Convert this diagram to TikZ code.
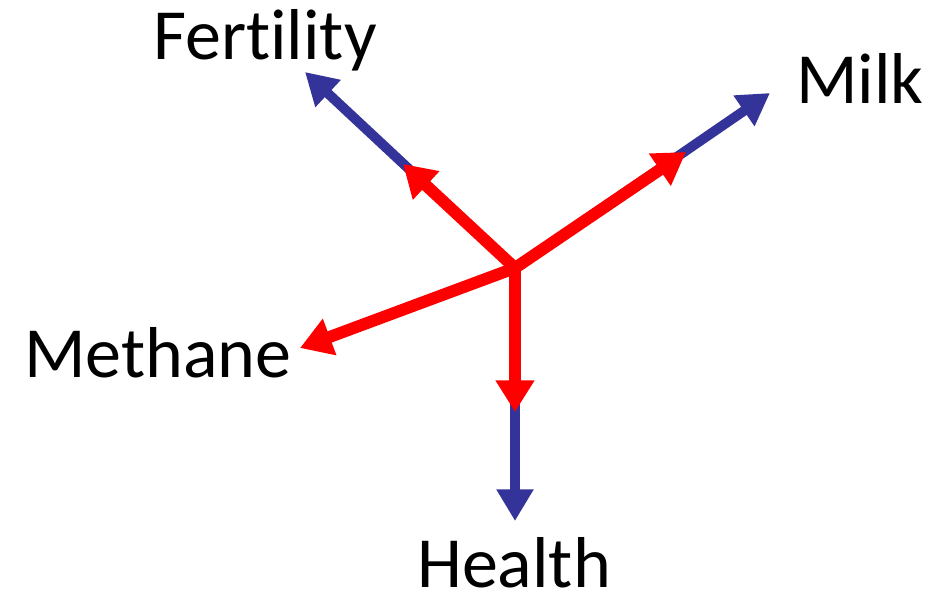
\documentclass[tikz,border=0pt]{standalone}
\usepackage{fontspec}
\setmainfont{Carlito}
\usetikzlibrary{arrows.meta}
\definecolor{bluearrow}{RGB}{51,51,153}
\definecolor{redarrow}{RGB}{255,0,0}

\begin{document}
\begin{tikzpicture}[x=0.02cm, y=-0.02cm,
    lbl/.style = {anchor=base, inner sep=0pt, font=\fontsize{41}{48}\selectfont},
    longarrow/.style = {draw=bluearrow, line width=5.6pt, -{Triangle[length=18pt, width=20pt]}, shorten <=-1pt},
    shortarrow/.style = {draw=redarrow, line width=6.8pt, -{Triangle[length=18pt, width=21pt]}, line join=round}]
    \useasboundingbox (0, 0) rectangle (931, 607);

    \coordinate (O) at (515, 268);
    \coordinate (F1) at (305, 72);
    \coordinate (M1) at (770, 93);
    \coordinate (H1) at (515, 521);
    \coordinate (F2) at (403, 164);
    \coordinate (M2) at (686, 152);
    \coordinate (E2) at (300, 348);
    \coordinate (H2) at (515, 412);

    \node (fert) at (265, 60) [lbl]{Fert\kern0pt ility};
    \node (milk) at (860, 104) [lbl]{Milk};
    \node (meth) at (158, 378) [lbl]{Methane};
    \node (heal) at (514, 588) [lbl]{Health};

    \draw[longarrow] (O) -- (F1);
    \draw[longarrow] (O) -- (M1);
    \draw[longarrow] (O) -- (H1);

    \draw[shortarrow] (O) -- (F2);
    \draw[shortarrow] (O) -- (M2);
    \draw[shortarrow] (O) -- (E2);
    \draw[shortarrow] (O) -- (H2);
\end{tikzpicture}
\end{document}
